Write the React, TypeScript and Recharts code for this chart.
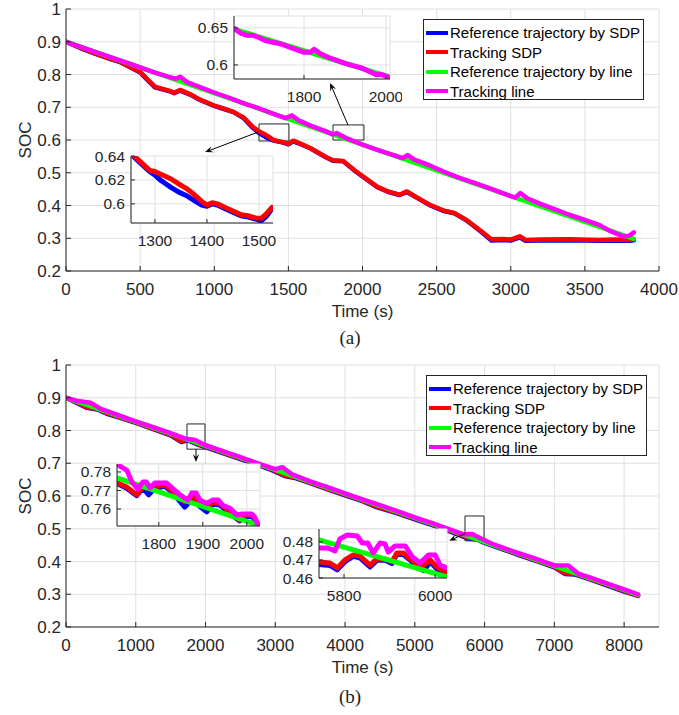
import React from 'react';
import {
  LineChart, Line, XAxis, YAxis, CartesianGrid, ReferenceArea, ReferenceLine, Legend,
} from 'recharts';

const FONT = '"Liberation Sans", Arial, Helvetica, sans-serif';
const AXIS = '#262626';
const GRID = '#e0e0e0';

const NAMES = ['Reference trajectory by SDP', 'Tracking SDP', 'Reference trajectory by line', 'Tracking line'];
const COLORS = ['#0000ff', '#ff0000', '#00ff00', '#ff00ff'];

const Y_TICKS = [0.2, 0.3, 0.4, 0.5, 0.6, 0.7, 0.8, 0.9, 1];

// ---- panel (a)
const A_X_TICKS = [0, 500, 1000, 1500, 2000, 2500, 3000, 3500, 4000];
const A_SDP_T = [0, 100, 200, 300, 360, 430, 500, 550, 600, 650, 700, 730, 770, 850, 900, 1000, 1050, 1130, 1200, 1260,
  1300, 1350, 1400, 1465, 1500, 1533, 1600, 1650, 1700, 1750, 1800, 1870, 1950, 2000, 2100, 2170, 2250, 2300, 2350, 2450,
  2550, 2620, 2700, 2800, 2870, 2950, 3000, 3060, 3100, 3200, 3400, 3600, 3700, 3800, 3830];
const A_REF_SDP = [0.900, 0.880, 0.863, 0.847, 0.839, 0.823, 0.806, 0.783, 0.761, 0.755, 0.749, 0.743, 0.751, 0.736, 0.723, 0.704, 0.697, 0.685, 0.666, 0.637,
  0.622, 0.608, 0.598, 0.592, 0.587, 0.596, 0.584, 0.574, 0.561, 0.548, 0.537, 0.535, 0.505, 0.489, 0.456, 0.442, 0.432, 0.441, 0.428, 0.402,
  0.383, 0.376, 0.355, 0.320, 0.293, 0.295, 0.293, 0.303, 0.292, 0.293, 0.294, 0.292, 0.293, 0.292, 0.294];
const A_TRK_SDP = [0.900, 0.881, 0.864, 0.848, 0.840, 0.824, 0.808, 0.785, 0.763, 0.756, 0.750, 0.744, 0.753, 0.737, 0.724, 0.705, 0.698, 0.686, 0.668, 0.640,
  0.627, 0.615, 0.600, 0.593, 0.588, 0.598, 0.585, 0.575, 0.562, 0.549, 0.538, 0.536, 0.506, 0.490, 0.457, 0.443, 0.433, 0.443, 0.429, 0.403,
  0.384, 0.377, 0.356, 0.322, 0.297, 0.298, 0.296, 0.306, 0.295, 0.296, 0.297, 0.295, 0.296, 0.295, 0.297];
const A_LINE_T = [0, 3830];
const A_REF_LINE = [0.9, 0.298];
const A_TRK_T = [0, 100, 200, 300, 400, 500, 600, 700, 740, 770, 820, 900, 1000, 1100, 1200, 1300, 1400, 1480, 1525, 1570,
  1650, 1750, 1800, 1825, 1900, 2000, 2100, 2200, 2270, 2305, 2350, 2450, 2550, 2650, 2750, 2850, 2950, 3030, 3065, 3110,
  3200, 3300, 3400, 3500, 3600, 3680, 3760, 3800, 3830];
const A_TRK_LINE = [0.900, 0.884, 0.868, 0.853, 0.838, 0.822, 0.806, 0.792, 0.787, 0.793, 0.776, 0.762, 0.745, 0.729, 0.712, 0.697, 0.680, 0.667, 0.675, 0.660,
  0.644, 0.627, 0.617, 0.621, 0.604, 0.586, 0.570, 0.555, 0.545, 0.554, 0.540, 0.523, 0.503, 0.485, 0.470, 0.454, 0.437, 0.424, 0.438, 0.422,
  0.405, 0.388, 0.371, 0.356, 0.340, 0.320, 0.305, 0.308, 0.318];
// zoom boxes [t1, t2, soc1, soc2] and arrows [tailT, tailSoc, headT, headSoc]
const A_BOXES = [[1302, 1504, 0.597, 0.649], [1801, 2010, 0.600, 0.646]];
const A_ARROWS = [[1295, 0.624, 938, 0.563], [1902, 0.646, 1781, 0.774]];

// inset (a) lower: SDP curves
const AI1_T = [1260, 1275, 1290, 1300, 1310, 1320, 1330, 1345, 1360, 1375, 1390, 1400, 1410, 1420, 1435, 1450, 1465, 1480, 1495, 1505, 1515, 1525];
const AI1_REF = [0.639, 0.633, 0.627, 0.624, 0.620, 0.617, 0.614, 0.610, 0.607, 0.603, 0.599, 0.598, 0.600, 0.599, 0.596, 0.593, 0.590, 0.589, 0.587, 0.586, 0.590, 0.596];
const AI1_TRK = [0.640, 0.634, 0.628, 0.627, 0.625, 0.623, 0.621, 0.617, 0.613, 0.608, 0.602, 0.599, 0.601, 0.600, 0.597, 0.594, 0.591, 0.590, 0.588, 0.588, 0.592, 0.597];
const AI1_X_TICKS = [1300, 1400, 1500];
const AI1_Y_TICKS = [0.6, 0.62, 0.64];

// inset (a) upper: line curves
const AI2_LINE_T = [1630, 2008];
const AI2_REF = [0.648, 0.584];
const AI2_T = [1630, 1645, 1660, 1675, 1690, 1705, 1720, 1740, 1760, 1780, 1800, 1815, 1825, 1840, 1860, 1880, 1900, 1920, 1940, 1960, 1975, 1990, 2005];
const AI2_TRK = [0.649, 0.643, 0.640, 0.640, 0.637, 0.633, 0.631, 0.629, 0.625, 0.621, 0.617, 0.617, 0.621, 0.615, 0.610, 0.606, 0.602, 0.599, 0.596, 0.591, 0.587, 0.587, 0.584];
const AI2_X_TICKS = [1800, 2000];
const AI2_Y_TICKS = [0.6, 0.65];

// ---- panel (b)
const B_X_TICKS = [0, 1000, 2000, 3000, 4000, 5000, 6000, 7000, 8000];
const B_SDP_T = [0, 150, 300, 450, 600, 800, 1000, 1250, 1500, 1650, 1750, 1900, 2100, 2300, 2500, 2750, 2950, 3150, 3300, 3500,
  3750, 4000, 4250, 4450, 4750, 5000, 5250, 5500, 5750, 5900, 6000, 6250, 6500, 6750, 7000, 7150, 7300, 7500, 7750, 8000, 8200];
const B_REF_SDP = [0.900, 0.885, 0.869, 0.864, 0.850, 0.837, 0.823, 0.804, 0.785, 0.765, 0.770, 0.756, 0.742, 0.727, 0.713, 0.695, 0.679, 0.660, 0.654, 0.639,
  0.620, 0.602, 0.584, 0.566, 0.547, 0.529, 0.511, 0.492, 0.471, 0.466, 0.457, 0.438, 0.419, 0.401, 0.382, 0.362, 0.360, 0.346, 0.327, 0.308, 0.295];
const B_TRK_SDP = [0.900, 0.887, 0.871, 0.866, 0.852, 0.839, 0.825, 0.806, 0.787, 0.768, 0.772, 0.758, 0.744, 0.729, 0.715, 0.697, 0.681, 0.662, 0.656, 0.641,
  0.622, 0.604, 0.586, 0.568, 0.549, 0.531, 0.513, 0.494, 0.474, 0.468, 0.459, 0.440, 0.421, 0.403, 0.384, 0.364, 0.362, 0.348, 0.329, 0.310, 0.296];
const B_LINE_T = [0, 8200];
const B_REF_LINE = [0.9, 0.298];
const B_TRK_T = [0, 150, 350, 500, 700, 1000, 1250, 1500, 1700, 1850, 2000, 2250, 2500, 2750, 3000, 3100, 3250, 3500, 3750, 4000,
  4250, 4500, 4750, 5000, 5250, 5500, 5700, 5820, 5950, 6100, 6300, 6500, 6750, 7000, 7200, 7350, 7500, 7750, 8000, 8200];
const B_TRK_LINE = [0.900, 0.891, 0.885, 0.866, 0.851, 0.828, 0.810, 0.792, 0.776, 0.771, 0.755, 0.737, 0.719, 0.700, 0.682, 0.688, 0.665, 0.645, 0.627, 0.608,
  0.590, 0.572, 0.554, 0.535, 0.517, 0.498, 0.483, 0.484, 0.470, 0.455, 0.439, 0.425, 0.407, 0.388, 0.388, 0.362, 0.352, 0.333, 0.315, 0.300];
const B_BOXES = [[1734, 1992, 0.743, 0.820], [5719, 5992, 0.463, 0.539]];
const B_ARROWS = [[1863, 0.743, 1863, 0.704], [5724, 0.486, 5494, 0.463]];

// inset (b) left
const BI1_LINE_T = [1705, 2030];
const BI1_REF = [0.7768, 0.7510];
const BI1_T = [1707, 1727, 1750, 1764, 1777, 1791, 1814, 1830, 1859, 1877, 1893, 1909, 1923, 1940, 1961, 1984, 1995, 2012, 2030];
const BI1_REF_SDP = [0.7735, 0.7712, 0.7672, 0.7712, 0.7676, 0.7712, 0.7722, 0.7692, 0.7610, 0.7655, 0.7615, 0.7584, 0.7628, 0.7620, 0.7575, 0.7535, 0.7560, 0.7560, 0.7500];
const BI1_TRK_SDP = [0.7740, 0.7719, 0.7676, 0.7720, 0.7712, 0.7720, 0.7730, 0.7700, 0.7638, 0.7665, 0.7630, 0.7610, 0.7635, 0.7630, 0.7584, 0.7540, 0.7568, 0.7568, 0.7503];
const BI1_M_T = [1707, 1727, 1739, 1752, 1764, 1772, 1780, 1791, 1818, 1830, 1848, 1866, 1875, 1885, 1893, 1909, 1923, 1935, 1945, 1961, 1977, 1989, 2011, 2018, 2025];
const BI1_TRK_LINE = [0.7838, 0.7810, 0.7746, 0.7708, 0.7746, 0.7746, 0.7714, 0.7740, 0.7740, 0.7714, 0.7676, 0.7649, 0.7686, 0.7686, 0.7649, 0.7630, 0.7649, 0.7649, 0.7620, 0.7605, 0.7568, 0.7573, 0.7573, 0.7557, 0.7514];
const BI1_X_TICKS = [1800, 1900, 2000];
const BI1_Y_TICKS = [0.76, 0.77, 0.78];

// inset (b) right
const BI2_LINE_T = [5745, 6026];
const BI2_REF = [0.4811, 0.4606];
const BI2_T = [5745, 5769, 5785, 5802, 5820, 5835, 5857, 5872, 5890, 5905, 5916, 5930, 5945, 5963, 5975, 5989, 6004, 6026];
const BI2_REF_SDP = [0.4675, 0.4670, 0.4645, 0.4690, 0.4720, 0.4712, 0.4661, 0.4698, 0.4700, 0.4680, 0.4730, 0.4730, 0.4700, 0.4655, 0.4640, 0.4690, 0.4650, 0.4617];
const BI2_TRK_SDP = [0.4689, 0.4683, 0.4656, 0.4700, 0.4728, 0.4722, 0.4672, 0.4706, 0.4706, 0.4689, 0.4739, 0.4739, 0.4706, 0.4672, 0.4670, 0.4700, 0.4661, 0.4633];
const BI2_M_T = [5745, 5765, 5780, 5791, 5807, 5829, 5840, 5852, 5864, 5879, 5890, 5897, 5912, 5934, 5950, 5967, 5985, 6000, 6011, 6026];
const BI2_TRK_LINE = [0.4767, 0.4767, 0.4750, 0.4817, 0.4839, 0.4833, 0.4794, 0.4794, 0.4739, 0.4794, 0.4789, 0.4744, 0.4778, 0.4778, 0.4717, 0.4683, 0.4728, 0.4728, 0.4672, 0.4656];
const BI2_X_TICKS = [5800, 6000];
const BI2_Y_TICKS = [0.46, 0.47, 0.48];

const zip = (ts: number[], vs: number[]) => ts.map((t, i) => ({ t, v: vs[i] }));
const fmt = (v: number) => String(Number(v.toFixed(3)));

type Pt = { t: number; v: number };
type Series = { idx: number; data: Pt[] };

function ArrowShape(props: any) {
  const { x1, y1, x2, y2 } = props;
  if (![x1, y1, x2, y2].every((n) => Number.isFinite(n))) return <g />;
  const a = Math.atan2(y2 - y1, x2 - x1);
  const L = 8, W = 3.2;
  const cx = Math.cos(a), sy = Math.sin(a);
  const bx = x2 - L * cx, by = y2 - L * sy;
  const nx = x2 - L * 0.6 * cx, ny = y2 - L * 0.6 * sy;
  const px = -sy * W, py = cx * W;
  return (
    <g>
      <line x1={x1} y1={y1} x2={nx} y2={ny} stroke="#000" strokeWidth={1} />
      <polygon points={`${x2},${y2} ${bx + px},${by + py} ${nx},${ny} ${bx - px},${by - py}`} fill="#000" />
    </g>
  );
}

function frame(xDomain: number[], xTicks: number[], yDomain: number[], yTicks: number[], fs: number, tl: number,
  xMargin: number, yMargin: number, yWidth: number, xHeight: number, labels: boolean) {
  const tick = { fontSize: fs, fill: AXIS, fontFamily: FONT };
  return [
    <XAxis key="xb" type="number" dataKey="t" domain={xDomain} ticks={xTicks} interval={0} allowDataOverflow
      tickSize={-tl} tickMargin={xMargin} height={xHeight} stroke={AXIS} tick={tick}
      label={labels ? {
        content: (p: any) => {
          const vb = p.viewBox || { x: 66, y: 271, width: 593 };
          return <text x={vb.x + vb.width / 2} y={vb.y + 46} textAnchor="middle" fontSize={17} fontFamily={FONT} fill={AXIS}>Time (s)</text>;
        },
      } : undefined} />,
    <XAxis key="xt" xAxisId="top" orientation="top" type="number" domain={xDomain} ticks={xTicks} interval={0} allowDataOverflow
      tickSize={-tl} height={0} stroke={AXIS} tick={false} />,
    <YAxis key="yl" type="number" domain={yDomain} ticks={yTicks} interval={0} allowDataOverflow
      tickSize={-tl} tickMargin={yMargin} width={yWidth} stroke={AXIS} tick={tick} tickFormatter={fmt}
      label={labels ? {
        content: (p: any) => {
          const vb = p.viewBox || { x: 0, y: 9, height: 262 };
          const cx = vb.x + 25, cy = vb.y + vb.height / 2;
          return <text x={cx} y={cy} transform={`rotate(-90, ${cx}, ${cy})`} textAnchor="middle" dominantBaseline="central" fontSize={17} fontFamily={FONT} fill={AXIS}>SOC</text>;
        },
      } : undefined} />,
    <YAxis key="yr" yAxisId="right" orientation="right" type="number" domain={yDomain} ticks={yTicks} interval={0} allowDataOverflow
      tickSize={-tl} width={0} stroke={AXIS} tick={false} />,
  ];
}

function lines(series: Series[], w: number) {
  return series.map((s) => (
    <Line key={s.idx} data={s.data} dataKey="v" name={NAMES[s.idx]} stroke={COLORS[s.idx]} strokeWidth={w}
      dot={false} activeDot={false} type="linear" strokeLinejoin="round" strokeLinecap="round" isAnimationActive={false} />
  ));
}

const renderLegend = (props: any) => {
  const items = [...(props.payload || [])].sort((a: any, b: any) => NAMES.indexOf(a.value) - NAMES.indexOf(b.value));
  return (
    <div style={{ border: `1px solid ${AXIS}`, background: '#fff', boxSizing: 'border-box', width: 221, height: 81,
      padding: '3px 0 0 2px', fontFamily: FONT, fontSize: 15, color: '#000' }}>
      {items.map((e: any) => (
        <div key={e.value} style={{ display: 'flex', alignItems: 'center', height: 19.5, whiteSpace: 'nowrap' }}>
          <span style={{ display: 'inline-block', width: 22, height: 4, background: e.color, marginRight: 2 }} />
          <span>{e.value}</span>
        </div>
      ))}
    </div>
  );
};

function Panel({ top, height, xMax, xTicks, series, boxes, arrows, legendLeft }: {
  top: number; height: number; xMax: number; xTicks: number[]; series: Series[];
  boxes: number[][]; arrows: number[][]; legendLeft: number;
}) {
  return (
    <div style={{ position: 'absolute', left: 0, top }}>
      <LineChart width={679} height={height} margin={{ top: 9, right: 20, left: 0, bottom: height - 301 }}>
        <CartesianGrid stroke={GRID} />
        {frame([0, xMax], xTicks, [0.2, 1], Y_TICKS, 17, 5, 17, 10, 66, 30, true)}
        {lines(series, 4.5)}
        {boxes.map((b, i) => (
          <ReferenceArea key={`b${i}`} x1={b[0]} x2={b[1]} y1={b[2]} y2={b[3]} fill="none" stroke={AXIS} strokeWidth={1} ifOverflow="visible" />
        ))}
        {arrows.map((a, i) => (
          <ReferenceLine key={`a${i}`} segment={[{ x: a[0], y: a[1] }, { x: a[2], y: a[3] }]} shape={ArrowShape} ifOverflow="visible" />
        ))}
        <Legend layout="vertical" align="center" verticalAlign="middle" content={renderLegend}
          wrapperStyle={{ left: legendLeft, top: 19, width: 221, height: 81 }} />
      </LineChart>
    </div>
  );
}

function Inset({ px, py, pw, ph, xDomain, xTicks, yDomain, yTicks, series }: {
  px: number; py: number; pw: number; ph: number; xDomain: number[]; xTicks: number[];
  yDomain: number[]; yTicks: number[]; series: Series[];
}) {
  const L = 64, T = 8, R = 12, B = 30;
  return (
    <div style={{ position: 'absolute', left: px - L, top: py - T }}>
      <LineChart width={pw + L + R} height={ph + T + B} margin={{ top: T, right: R, left: 0, bottom: 0 }}>
        <CartesianGrid stroke={GRID} fill="#fff" fillOpacity={1} />
        {frame(xDomain, xTicks, yDomain, yTicks, 15.5, 4, 15.6, 10, L, B, false)}
        {lines(series, 5)}
      </LineChart>
    </div>
  );
}

const Caption = ({ text, cy }: { text: string; cy: number }) => (
  <div style={{ position: 'absolute', left: 320, top: cy - 11, width: 60, lineHeight: '22px', textAlign: 'center',
    fontFamily: '"Liberation Serif", "Times New Roman", serif', fontSize: 19, color: '#222' }}>{text}</div>
);

export default function App() {
  const aSeries: Series[] = [
    { idx: 0, data: zip(A_SDP_T, A_REF_SDP) },
    { idx: 1, data: zip(A_SDP_T, A_TRK_SDP) },
    { idx: 2, data: zip(A_LINE_T, A_REF_LINE) },
    { idx: 3, data: zip(A_TRK_T, A_TRK_LINE) },
  ];
  const bSeries: Series[] = [
    { idx: 0, data: zip(B_SDP_T, B_REF_SDP) },
    { idx: 1, data: zip(B_SDP_T, B_TRK_SDP) },
    { idx: 2, data: zip(B_LINE_T, B_REF_LINE) },
    { idx: 3, data: zip(B_TRK_T, B_TRK_LINE) },
  ];
  return (
    <div style={{ position: 'absolute', left: 0, top: 0, width: 679, height: 715, background: '#fff', overflow: 'hidden' }}>
      <Panel top={0} height={356} xMax={4000} xTicks={A_X_TICKS} series={aSeries} boxes={A_BOXES} arrows={A_ARROWS} legendLeft={423} />
      <Inset px={131} py={156} pw={142} ph={67} xDomain={[1254, 1527]} xTicks={AI1_X_TICKS} yDomain={[0.584, 0.64]} yTicks={AI1_Y_TICKS}
        series={[{ idx: 0, data: zip(AI1_T, AI1_REF) }, { idx: 1, data: zip(AI1_T, AI1_TRK) }]} />
      <Inset px={234} py={16} pw={156} ph={63} xDomain={[1629, 2010]} xTicks={AI2_X_TICKS} yDomain={[0.581, 0.666]} yTicks={AI2_Y_TICKS}
        series={[{ idx: 2, data: zip(AI2_LINE_T, AI2_REF) }, { idx: 3, data: zip(AI2_T, AI2_TRK) }]} />
      <Caption text="(a)" cy={338} />
      <Panel top={356} height={359} xMax={8500} xTicks={B_X_TICKS} series={bSeries} boxes={B_BOXES} arrows={B_ARROWS} legendLeft={426} />
      <Inset px={117} py={464} pw={143} ph={62} xDomain={[1705, 2030]} xTicks={BI1_X_TICKS} yDomain={[0.7508, 0.7843]} yTicks={BI1_Y_TICKS}
        series={[
          { idx: 0, data: zip(BI1_T, BI1_REF_SDP) }, { idx: 1, data: zip(BI1_T, BI1_TRK_SDP) },
          { idx: 2, data: zip(BI1_LINE_T, BI1_REF) }, { idx: 3, data: zip(BI1_M_T, BI1_TRK_LINE) },
        ]} />
      <Inset px={319} py={529} pw={128} ph={49} xDomain={[5745, 6026]} xTicks={BI2_X_TICKS} yDomain={[0.46, 0.4872]} yTicks={BI2_Y_TICKS}
        series={[
          { idx: 0, data: zip(BI2_T, BI2_REF_SDP) }, { idx: 1, data: zip(BI2_T, BI2_TRK_SDP) },
          { idx: 2, data: zip(BI2_LINE_T, BI2_REF) }, { idx: 3, data: zip(BI2_M_T, BI2_TRK_LINE) },
        ]} />
      <Caption text="(b)" cy={697} />
    </div>
  );
}
